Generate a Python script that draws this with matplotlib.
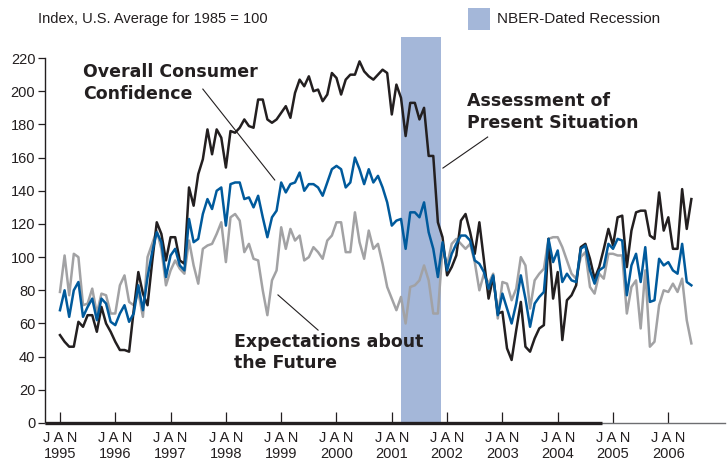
import numpy as np
import matplotlib
matplotlib.use("Agg")
import matplotlib.pyplot as plt
from matplotlib.patches import Rectangle

# monthly index values, Jan 1995 .. Jun 2006 (1985 = 100)
present = [
    53, 49, 46, 46, 61, 58, 65, 65, 55, 70, 60, 55,
    49, 44, 44, 43, 68, 91, 78, 71, 97, 121, 114, 98,
    112, 112, 98, 96, 142, 131, 150, 159, 177, 162, 177, 172,
    154, 176, 175, 178, 183, 179, 178, 195, 195, 183, 181, 183,
    187, 191, 184, 199, 207, 203, 209, 200, 201, 194, 198, 211,
    208, 198, 207, 210, 210, 218, 212, 209, 207, 210, 213, 211,
    186, 204, 196, 173, 193, 193, 183, 190, 161, 161, 121, 112,
    89, 94, 101, 122, 126, 115, 102, 121, 98, 75, 88, 66,
    67, 45, 38, 56, 73, 46, 43, 51, 57, 59, 111, 75,
    91, 50, 74, 77, 83, 106, 108, 99, 87, 94, 105, 117,
    107, 124, 125, 94, 116, 127, 128, 128, 113, 111, 139, 116,
    124, 105, 105, 141, 117, 135,
]
overall = [
    68, 80, 64, 80, 85, 64, 70, 75, 62, 75, 72, 61,
    59, 66, 71, 61, 66, 83, 68, 88, 103, 115, 109, 88,
    101, 105, 95, 92, 123, 109, 111, 126, 135, 129, 140, 142,
    119, 144, 145, 145, 135, 136, 130, 137, 124, 112, 124, 128,
    145, 139, 144, 145, 151, 140, 144, 144, 142, 137, 145, 153,
    155, 153, 142, 145, 160, 153, 144, 153, 145, 149, 142, 133,
    119, 122, 123, 105, 127, 127, 124, 133, 115, 105, 88, 109,
    92, 102, 108, 113, 113, 110, 98, 96, 91, 81, 89, 65,
    78, 69, 60, 72, 89, 75, 58, 72, 76, 79, 111, 97,
    104, 85, 90, 86, 85, 105, 107, 92, 84, 92, 94, 108,
    105, 111, 110, 77, 95, 102, 85, 106, 73, 74, 99, 95,
    97, 92, 90, 108, 85, 83,
]
expectations = [
    79, 101, 77, 102, 100, 71, 72, 81, 66, 78, 77, 66,
    66, 83, 89, 73, 71, 79, 64, 100, 108, 116, 105, 83,
    92, 98, 93, 90, 110, 95, 84, 105, 107, 108, 114, 121,
    97, 124, 126, 122, 103, 108, 99, 98, 80, 65, 86, 92,
    118, 105, 117, 110, 113, 98, 100, 106, 103, 99, 110, 113,
    121, 121, 103, 103, 127, 109, 99, 116, 105, 108, 96, 82,
    75, 68, 76, 60, 82, 83, 86, 95, 86, 66, 66, 105,
    95, 108, 111, 108, 105, 108, 97, 80, 90, 84, 90, 63,
    85, 84, 74, 81, 100, 95, 69, 86, 90, 93, 111, 112,
    112, 106, 98, 90, 87, 100, 103, 82, 78, 90, 87, 102,
    102, 101, 101, 66, 82, 86, 57, 92, 46, 49, 71, 80,
    79, 84, 79, 87, 62, 48,
]
years = list(range(1995, 2007))
rec_start, rec_end = 74, 82.6      # Mar 2001 .. Nov 2001, months from Jan 1995
dark_axis_end = 117.6              # dark base line runs to about Sep 2004

C_BLACK = "#231f20"
C_BLUE = "#005a9c"
C_GRAY = "#a2a2a4"
C_BAND = "#a4b7d9"

narrow = ["Liberation Sans Narrow", "Liberation Sans", "DejaVu Sans"]
bold = ["DejaVu Sans"]

fig = plt.figure(figsize=(7.28, 4.63), dpi=100)
ax = fig.add_axes([45 / 728, 40 / 463, 680 / 728, 386 / 463])

months = np.arange(len(present))
ax.axvspan(rec_start, rec_end, color=C_BAND, lw=0, zorder=0)
ax.plot(months, expectations, color=C_GRAY, lw=1.8, zorder=2)
ax.plot(months, present, color=C_BLACK, lw=1.8, zorder=3)
ax.plot(months, overall, color=C_BLUE, lw=1.8, zorder=4)

xmin, xmax = -3.25, 144.3
ax.set_xlim(xmin, xmax)
ax.set_ylim(0, 232.7)

# base line: thin across, heavy up to late 2004
ax.plot([xmin, xmax], [0, 0], color="#6d6e71", lw=1.0, zorder=5, clip_on=False)
ax.plot([xmin, dark_axis_end], [0, 0], color=C_BLACK, lw=2.4, zorder=6,
        solid_capstyle="butt", clip_on=False)

for s in ["top", "right", "bottom"]:
    ax.spines[s].set_visible(False)
ax.spines["left"].set_bounds(0, 220)
ax.spines["left"].set_color(C_BLACK)
ax.spines["left"].set_linewidth(1.0)

ax.set_yticks(range(0, 221, 20))
ax.tick_params(axis="y", direction="out", length=5, width=0.9, color=C_BLACK,
               pad=2, labelsize=10.5, labelcolor=C_BLACK)
for lab in ax.get_yticklabels():
    lab.set_family(narrow)

ax.set_xticks([12 * i for i in range(len(years))])
ax.set_xticklabels([f"J A N\n{y}" for y in years], linespacing=1.15)
ax.tick_params(axis="x", direction="in", length=8, width=0.9, color=C_BLACK,
               pad=6, labelsize=10.5, labelcolor=C_BLACK)
for lab in ax.get_xticklabels():
    lab.set_family(narrow)

# series labels and leader lines
ax.text(5.0, 217, "Overall Consumer\nConfidence", fontsize=12.5, fontweight="bold",
        family=bold, color=C_BLACK, va="top", ha="left", linespacing=1.25)
ax.plot([31.0, 46.6], [201.3, 146.5], color=C_BLACK, lw=0.8)

ax.text(88.3, 199.5, "Assessment of\nPresent Situation", fontsize=12.5,
        fontweight="bold", family=bold, color=C_BLACK, va="top", ha="left",
        linespacing=1.25)
ax.plot([92.8, 83.1], [172.4, 153.7], color=C_BLACK, lw=0.8)

ax.text(37.7, 54.5, "Expectations about\nthe Future", fontsize=12.5,
        fontweight="bold", family=bold, color=C_BLACK, va="top", ha="left",
        linespacing=1.25)
ax.plot([47.3, 56.0], [77.2, 56.0], color=C_BLACK, lw=0.8)

# header and legend
fig.text(38 / 728, 1 - 19 / 463, "Index, U.S. Average for 1985 = 100",
         fontsize=10.5, family=narrow, color=C_BLACK, va="center", ha="left")
fig.patches.append(Rectangle((468 / 728, 1 - 30 / 463), 22 / 728, 22 / 463,
                             transform=fig.transFigure, color=C_BAND, lw=0))
fig.text(497 / 728, 1 - 19 / 463, "NBER-Dated Recession",
         fontsize=11, family=narrow, color=C_BLACK, va="center", ha="left")

fig.savefig("out.png", dpi=100)
